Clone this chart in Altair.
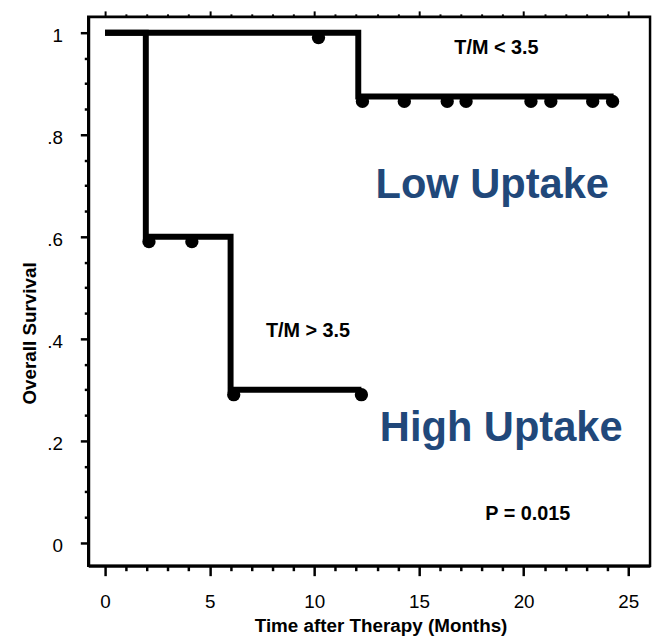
import altair as alt
import pandas as pd

# Step curves (Kaplan-Meier)
low_t = [0, 12.1, 24.3]
low_s = [1.0, 0.875, 0.875]
high_t = [0, 1.95, 6.0, 12.25]
high_s = [1.0, 0.6, 0.3, 0.3]

# Censor marks
low_cens_t = [10.2, 12.3, 14.3, 16.35, 17.25, 20.35, 21.3, 23.3, 24.25]
low_cens_s = [1.0, 0.875, 0.875, 0.875, 0.875, 0.875, 0.875, 0.875, 0.875]
high_cens_t = [2.1, 4.15, 6.15, 12.25]
high_cens_s = [0.6, 0.6, 0.3, 0.3]

# Annotations
ann_text = ["T/M < 3.5", "T/M > 3.5", "P = 0.015"]
ann_x = [18.7, 9.7, 20.2]
ann_y = [0.958, 0.404, 0.045]
big_text = ["Low Uptake", "High Uptake"]
big_x = [18.5, 18.93]
big_y = [0.676, 0.2]

x_ticks = list(range(0, 26))
y_ticks = [round(i * 0.05, 2) for i in range(21)]

FONT = "Liberation Sans"

curves = pd.DataFrame({
    "t": low_t + high_t,
    "s": low_s + high_s,
    "g": ["low"] * len(low_t) + ["high"] * len(high_t),
})
cens = pd.DataFrame({
    "t": low_cens_t + high_cens_t,
    "s": low_cens_s + high_cens_s,
})
ann = pd.DataFrame({"label": ann_text, "t": ann_x, "s": ann_y})
big = pd.DataFrame({"label": big_text, "t": big_x, "s": big_y})

xscale = alt.Scale(domain=[-0.8, 26.04], nice=False, zero=False)
yscale = alt.Scale(domain=[-0.045, 1.031], nice=False, zero=False)

x_bottom = alt.Axis(
    orient="bottom",
    values=x_ticks,
    labelExpr="datum.value % 5 == 0 ? datum.label : ''",
    tickSize={"condition": {"test": "datum.value % 5 == 0", "value": 10}, "value": 5},
    labelPadding=17,
    labelFontSize=19,
    labelFont=FONT,
    labelColor="black",
    labelFlush=False,
    grid=False,
    domainColor="black",
    domainWidth=3,
    tickColor="black",
    tickWidth=2.5,
    title="Time after Therapy (Months)",
    titleFont=FONT,
    titleFontSize=19,
    titleFontWeight="bold",
    titleColor="black",
    titleX=295,
    titleY=60,
    titleBaseline="middle",
    titleAlign="center",
)

x_top = alt.Axis(
    orient="top",
    values=x_ticks,
    labels=False,
    tickSize={"condition": {"test": "datum.value % 5 == 0", "value": 6}, "value": 3},
    grid=False,
    domainColor="black",
    domainWidth=2,
    tickColor="black",
    tickWidth=2,
    title=None,
)

MAJOR_Y = "abs(datum.value*5 - round(datum.value*5)) < 0.001"
y_left = alt.Axis(
    orient="left",
    values=y_ticks,
    labelExpr=MAJOR_Y + " ? (datum.value < 0.01 ? '0' : (datum.value > 0.99 ? '1' : '.' + round(datum.value*10))) : ''",
    tickSize={"condition": {"test": MAJOR_Y, "value": 8}, "value": 4},
    labelPadding=18,
    labelOffset=3,
    labelFontSize=19,
    labelFont=FONT,
    labelColor="black",
    labelFlush=False,
    grid=False,
    domainColor="black",
    domainWidth=3,
    tickColor="black",
    tickWidth=2.5,
    title="Overall Survival",
    titleFont=FONT,
    titleFontSize=19,
    titleFontWeight="bold",
    titleColor="black",
    titleX=-59,
    titleY=319,
    titleBaseline="middle",
    titleAlign="center",
    titleAngle=270,
)

lines = alt.Chart(curves).mark_line(
    interpolate="step-after", color="black", strokeWidth=6, strokeCap="butt"
).encode(
    x=alt.X("t:Q", scale=xscale, axis=x_bottom),
    y=alt.Y("s:Q", scale=yscale, axis=y_left),
    detail="g:N",
)

dots = alt.Chart(cens).mark_circle(
    color="black", size=180, opacity=1, yOffset=5
).encode(
    x=alt.X("t:Q", scale=xscale, axis=None),
    y=alt.Y("s:Q", scale=yscale, axis=None),
)

ann_layer = alt.Chart(ann).mark_text(
    font=FONT, fontSize=20, fontWeight="bold", color="black",
    align="center", baseline="alphabetic",
).encode(
    x=alt.X("t:Q", scale=xscale, axis=x_top),
    y=alt.Y("s:Q", scale=yscale, axis=None),
    text="label:N",
)

big_layer = alt.Chart(big).mark_text(
    font=FONT, fontSize=42, fontWeight="bold", color="#21487A",
    align="center", baseline="alphabetic",
).encode(
    x=alt.X("t:Q", scale=xscale, axis=None),
    y=alt.Y("s:Q", scale=yscale, axis=None),
    text="label:N",
)

chart = alt.layer(lines, dots, ann_layer, big_layer).resolve_axis(
    x="independent", y="independent"
).properties(
    width=567,
    height=554,
    autosize=alt.AutoSizeParams(type="none"),
    padding={"left": 81, "top": 6, "right": 5, "bottom": 72},
    background="white",
).configure_view(
    stroke="black", strokeWidth=2.5
)

chart.save("out.html", embed_options={"renderer": "svg", "actions": False})
